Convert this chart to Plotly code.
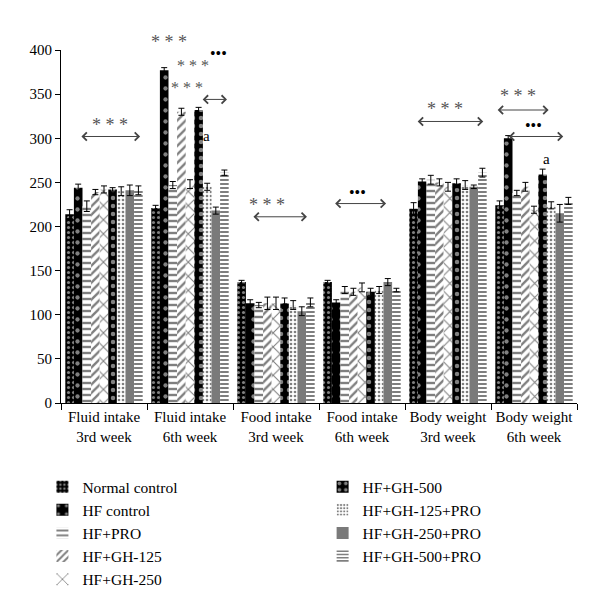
import plotly.graph_objects as go

categories = ["Fluid intake<br>3rd week", "Fluid intake<br>6th week", "Food intake<br>3rd week",
              "Food intake<br>6th week", "Body weight<br>3rd week", "Body weight<br>6th week"]

series_names = ["Normal control", "HF control", "HF+PRO", "HF+GH-125", "HF+GH-250",
                "HF+GH-500", "HF+GH-125+PRO", "HF+GH-250+PRO", "HF+GH-500+PRO"]

normal_control = [214, 221, 137, 137, 220, 224]
hf_control = [244, 377, 113, 114, 251, 300]
hf_pro = [223, 247, 111, 128, 253, 238]
hf_gh125 = [239, 330, 113, 126, 250, 245]
hf_gh250 = [242, 248, 113, 131, 245, 219]
hf_gh500 = [242, 332, 113, 126, 249, 259]
hf_gh125_pro = [240, 245, 111, 128, 247, 224]
hf_gh250_pro = [241, 218, 104, 137, 245, 215]
hf_gh500_pro = [241, 261, 114, 128, 261, 229]

err_nc = [5, 3, 2, 2, 7, 5]
err_hfc = [4, 3, 4, 3, 3, 3]
err_pro = [6, 4, 3, 4, 5, 3]
err_125 = [3, 4, 7, 4, 4, 5]
err_250 = [4, 5, 7, 5, 5, 4]
err_500 = [2, 3, 6, 4, 5, 6]
err_125p = [5, 4, 5, 4, 5, 4]
err_250p = [6, 4, 5, 4, 2, 10]
err_500p = [5, 3, 5, 2, 5, 4]

values = [normal_control, hf_control, hf_pro, hf_gh125, hf_gh250, hf_gh500,
          hf_gh125_pro, hf_gh250_pro, hf_gh500_pro]
errors = [err_nc, err_hfc, err_pro, err_125, err_250, err_500, err_125p, err_250p, err_500p]

styles = [
    dict(color="black", pattern=dict(shape=".", fgcolor="white", bgcolor="black", size=5, solidity=0.3, fillmode="overlay")),
    dict(color="black", pattern=dict(shape=".", fgcolor="white", bgcolor="black", size=11, solidity=0.12, fillmode="overlay")),
    dict(color="black", pattern=dict(shape="-", fgcolor="black", bgcolor="white", size=6, solidity=0.4, fillmode="overlay")),
    dict(color="black", pattern=dict(shape="/", fgcolor="black", bgcolor="white", size=6, solidity=0.4, fillmode="overlay")),
    dict(color="black", pattern=dict(shape="x", fgcolor="black", bgcolor="white", size=10, solidity=0.2, fillmode="overlay")),
    dict(color="black", pattern=dict(shape=".", fgcolor="white", bgcolor="black", size=8, solidity=0.25, fillmode="overlay")),
    dict(color="black", pattern=dict(shape=".", fgcolor="black", bgcolor="white", size=4, solidity=0.35, fillmode="overlay")),
    dict(color="#7a7a7a"),
    dict(color="black", pattern=dict(shape="-", fgcolor="black", bgcolor="white", size=4, solidity=0.5, fillmode="overlay")),
]

fig = go.Figure()
for i, (name, vals, errs, st) in enumerate(zip(series_names, values, errors, styles)):
    fig.add_trace(go.Bar(
        x=categories, y=vals, name=name,
        marker=dict(line=dict(width=0), **st),
        error_y=dict(type="data", array=errs, color="black", thickness=1, width=3),
        legend="legend" if i < 5 else "legend2",
    ))

font_family = "Liberation Serif"
fig.update_layout(
    width=592, height=606,
    barmode="group", bargap=0.1, bargroupgap=0,
    plot_bgcolor="white", paper_bgcolor="white",
    margin=dict(l=53, r=23, t=42, b=211),
    font=dict(family=font_family, size=15, color="black"),
    xaxis=dict(showline=True, linecolor="black", linewidth=1, ticks="outside",
               tickson="boundaries", ticklen=6, tickcolor="black", showgrid=False,
               tickfont=dict(size=15), range=[-0.5, 5.5], tickangle=0, automargin=False),
    yaxis=dict(range=[0, 400], dtick=50, showline=True, linecolor="black", linewidth=1,
               ticks="outside", ticklen=5, tickcolor="black", showgrid=False, zeroline=False,
               tickfont=dict(size=15), automargin=False),
    legend=dict(x=-0.036, y=-0.19, xanchor="left", yanchor="top", orientation="v",
                font=dict(size=15.5), tracegroupgap=0, itemwidth=30),
    legend2=dict(x=0.507, y=-0.19, xanchor="left", yanchor="top", orientation="v",
                 font=dict(size=15.5), tracegroupgap=0, itemwidth=30),
)

star_color = "#555555"
stars = "* * *"
dots = "•••"
texts = [
    (0.07, 315, stars, star_color, 18),
    (1.33, 396, dots, "black", 16),
    (1.03, 383, stars, star_color, 16),
    (0.96, 357, stars, star_color, 16),
    (1.19, 303, "a", "black", 15),
    (1.90, 224, stars, star_color, 18),
    (2.95, 238, dots, "black", 16),
    (3.97, 333, stars, star_color, 18),
    (4.81, 348, stars, star_color, 18),
    (4.99, 315, dots, "black", 16),
    (5.15, 277, "a", "black", 15),
]
for x, y, t, c, s in texts:
    fig.add_annotation(x=x, y=y, text=t, showarrow=False, xref="x", yref="y",
                       font=dict(size=s, color=c, family=font_family))
# top annotation above the plot area
fig.add_annotation(x=0.75, y=1.0575, text=stars, showarrow=False, xref="x", yref="paper",
                   font=dict(size=18, color=star_color, family=font_family))

arrows = [
    (-0.28, 0.42, 302),
    (1.13, 1.43, 344),
    (1.72, 2.36, 211),
    (2.67, 3.28, 226),
    (3.63, 4.41, 319),
    (4.56, 5.17, 332),
    (4.69, 5.34, 302),
]
for x0, x1, y in arrows:
    fig.add_annotation(x=x1, y=y, ax=x0, ay=y, xref="x", yref="y", axref="x", ayref="y",
                       text="", showarrow=True, arrowhead=4, arrowside="end+start",
                       arrowsize=1.6, arrowwidth=1, arrowcolor="#444444")

fig.write_html("out.html")
